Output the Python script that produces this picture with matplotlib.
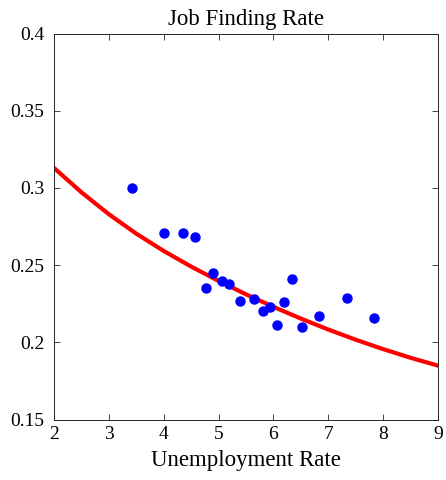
import matplotlib
matplotlib.use('Agg')
import matplotlib.pyplot as plt

# Datos
tasa_desempleo = [3.42, 4.01, 4.35, 4.57, 4.77, 4.90, 5.07, 5.19, 5.39, 5.65,
                  5.81, 5.93, 6.07, 6.19, 6.33, 6.52, 6.83, 7.34, 7.84]
tasa_empleo = [0.300, 0.271, 0.271, 0.268, 0.235, 0.245, 0.240, 0.238, 0.227,
               0.228, 0.220, 0.223, 0.211, 0.226, 0.241, 0.210, 0.217, 0.229,
               0.216]

curva_x = [2.0, 2.5, 3.0, 3.5, 4.0, 4.5, 5.0, 5.5, 6.0, 6.5, 7.0, 7.5, 8.0,
           8.5, 9.0]
curva_y = [0.313, 0.2972, 0.2830, 0.2704, 0.2592, 0.2491, 0.2398, 0.2311,
           0.2230, 0.2154, 0.2083, 0.2017, 0.1956, 0.1900, 0.1849]

plt.rcParams['font.family'] = ['Liberation Serif', 'DejaVu Serif']
plt.rc(('xtick', 'ytick'), labelsize=14, direction='in')
plt.rc('xtick', top=True)
plt.rc('ytick', right=True)

fig = plt.figure(figsize=(4.46, 4.80), dpi=100)
ax = fig.add_axes([0.121, 0.126, 0.861, 0.804])

ax.plot(curva_x, curva_y, color='red', lw=3, solid_joinstyle='round')
ax.plot(tasa_desempleo, tasa_empleo, ls=' ', marker='o', ms=6.5,
        color='blue', mec='blue')

ax.set_xlim(2, 9)
ax.set_ylim(0.15, 0.4)
ax.set_xticks(range(2, 10))
ax.set_yticks([0.15, 0.2, 0.25, 0.3, 0.35, 0.4])
ax.set_yticklabels(['0.15', '0.2', '0.25', '0.3', '0.35', '0.4'])
ax.tick_params(length=4, width=0.6, colors='0.15', labelcolor='black')
ax.tick_params(axis='x', pad=4.5)
ax.tick_params(axis='y', pad=7)
for s in ax.spines.values():
    s.set_color('0.15')
    s.set_linewidth(0.7)

ax.set_title('Job Finding Rate', fontsize=16.5, pad=6)
ax.set_xlabel('Unemployment Rate', fontsize=16.5, labelpad=5)

fig.savefig('out.png', dpi=100)
